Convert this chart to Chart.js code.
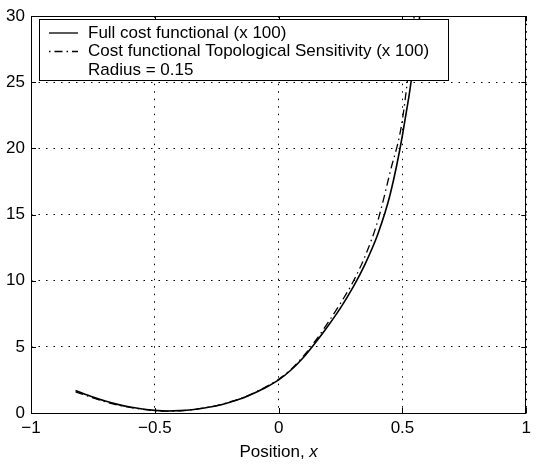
<!DOCTYPE html>
<html>
<head>
<meta charset="utf-8">
<script src="https://cdn.jsdelivr.net/npm/chart.js@4/dist/chart.umd.min.js"></script>
<style>
  html, body { margin: 0; padding: 0; background: #fff; }
  #wrap { width: 536px; height: 464px; position: relative; }
</style>
</head>
<body>
<div id="wrap"><canvas id="myChart"></canvas></div>
<script>
// values (cost x 100)
const fullX = [-0.82, -0.75, -0.7, -0.65, -0.6, -0.55, -0.5, -0.45, -0.4, -0.35, -0.3, -0.25, -0.2, -0.15, -0.1, -0.05, 0, 0.05, 0.1, 0.15, 0.2, 0.25, 0.3, 0.35, 0.4, 0.45, 0.5, 0.55, 0.6];
const fullY = [1.7, 1.2, 0.9, 0.65, 0.45, 0.3, 0.2, 0.15, 0.18, 0.25, 0.38, 0.55, 0.8, 1.1, 1.5, 1.95, 2.5, 3.25, 4.2, 5.35, 6.6, 7.95, 9.5, 11.3, 13.5, 16.5, 21.0, 27.0, 35.0];
const sensX = [-0.82, -0.75, -0.7, -0.65, -0.6, -0.55, -0.5, -0.45, -0.4, -0.35, -0.3, -0.25, -0.2, -0.15, -0.1, -0.05, 0, 0.05, 0.1, 0.15, 0.2, 0.25, 0.3, 0.35, 0.4, 0.45, 0.5, 0.55, 0.57];
const sensY = [1.6, 1.15, 0.85, 0.6, 0.42, 0.28, 0.18, 0.14, 0.17, 0.25, 0.38, 0.56, 0.82, 1.12, 1.52, 2.0, 2.55, 3.3, 4.3, 5.5, 6.85, 8.3, 9.9, 11.9, 14.5, 18.2, 22.2, 30.5, 34.5];
const xTicks = [-1, -0.5, 0, 0.5, 1];
const yTicks = [0, 5, 10, 15, 20, 25, 30];
const legendLabels = ['Full cost functional (x 100)', 'Cost functional Topological Sensitivity (x 100)', 'Radius = 0.15'];
const xTitle = 'Position, ';
const xTitleVar = 'x';

const FONT = '"Liberation Sans", Arial, Helvetica, sans-serif';
const dashDot = [8, 4, 1.5, 4];

function fmt(v) {
  return (v < 0 ? '\u2212' : '') + Math.abs(v);
}

// frame, inward ticks, legend box and x label (matlab look)
const matlabBits = {
  id: 'matlabBits',
  afterDraw(chart) {
    const c = chart.ctx;
    const a = chart.chartArea;
    const xs = chart.scales.x, ys = chart.scales.y;
    c.save();
    c.strokeStyle = '#000';
    c.lineWidth = 1;
    c.setLineDash([]);
    c.beginPath();
    xTicks.forEach(v => {
      const px = Math.round(xs.getPixelForValue(v)) + 0.5;
      c.moveTo(px, a.bottom); c.lineTo(px, a.bottom - 5);
      c.moveTo(px, a.top); c.lineTo(px, a.top + 5);
    });
    yTicks.forEach(v => {
      const py = Math.round(ys.getPixelForValue(v)) + 0.5;
      c.moveTo(a.left, py); c.lineTo(a.left + 5, py);
      c.moveTo(a.right, py); c.lineTo(a.right - 5, py);
    });
    c.stroke();
    c.strokeRect(Math.round(a.left) + 0.5, Math.round(a.top) + 0.5, Math.round(a.right - a.left) - 1, Math.round(a.bottom - a.top));

    // legend
    const bx = 39.5, by = 19.5, bw = 409, bh = 61;
    c.fillStyle = '#fff';
    c.fillRect(bx, by, bw, bh);
    c.strokeRect(bx, by, bw, bh);
    const rows = [33, 51.5, 70];
    c.font = '17px ' + FONT;
    c.fillStyle = '#000';
    c.textBaseline = 'middle';
    c.textAlign = 'left';
    legendLabels.forEach((t, i) => {
      if (i < 2) {
        c.beginPath();
        c.lineWidth = 1.3;
        c.setLineDash(i === 0 ? [] : [1.5, 4, 8, 4]);
        c.moveTo(49, rows[i]); c.lineTo(78, rows[i]);
        c.stroke();
      }
      c.fillText(t, 88, rows[i]);
    });

    // x axis title with italic x
    c.setLineDash([]);
    c.font = '17px ' + FONT;
    const w1 = c.measureText(xTitle).width;
    c.font = 'italic 17px ' + FONT;
    const w2 = c.measureText(xTitleVar).width;
    const cx = (a.left + a.right) / 2;
    const x0 = cx - (w1 + w2) / 2;
    c.textBaseline = 'alphabetic';
    c.font = '17px ' + FONT;
    c.fillText(xTitle, x0, 457);
    c.font = 'italic 17px ' + FONT;
    c.fillText(xTitleVar, x0 + w1, 457);
    c.restore();
  }
};

const ctx = document.getElementById('myChart');
const myChart = new Chart(ctx, {
  type: 'line',
  data: {
    datasets: [{
      label: legendLabels[0],
      data: fullX.map((x, i) => ({ x: x, y: fullY[i] })),
      borderColor: '#000',
      borderWidth: 1.6,
      pointRadius: 0,
      cubicInterpolationMode: 'monotone'
    }, {
      label: legendLabels[1],
      data: sensX.map((x, i) => ({ x: x, y: sensY[i] })),
      borderColor: '#000',
      borderWidth: 1.3,
      borderDash: dashDot,
      pointRadius: 0,
      cubicInterpolationMode: 'monotone'
    }]
  },
  options: {
    responsive: true,
    maintainAspectRatio: false,
    animation: false,
    layout: { padding: { top: 11, right: 2, left: 0, bottom: 0 } },
    plugins: {
      legend: { display: false },
      tooltip: { enabled: false }
    },
    scales: {
      x: {
        type: 'linear',
        min: -1, max: 1,
        afterBuildTicks: s => { s.ticks = xTicks.map(v => ({ value: v })); },
        afterFit: s => { s.height = 51; },
        border: { display: false, dash: [1.5, 6] },
        grid: { color: '#000', lineWidth: 1, drawTicks: false },
        ticks: { color: '#000', padding: 5, maxRotation: 0, font: { family: FONT, size: 17 }, callback: v => fmt(v) }
      },
      y: {
        min: 0, max: 30,
        afterBuildTicks: s => { s.ticks = yTicks.map(v => ({ value: v })); },
        afterFit: s => { s.width = 31; },
        border: { display: false, dash: [1.5, 6] },
        grid: { color: '#000', lineWidth: 1, drawTicks: false },
        ticks: { color: '#000', padding: 6, font: { family: FONT, size: 17 }, callback: v => fmt(v) }
      }
    }
  },
  plugins: [matlabBits]
});
</script>
</body>
</html>
